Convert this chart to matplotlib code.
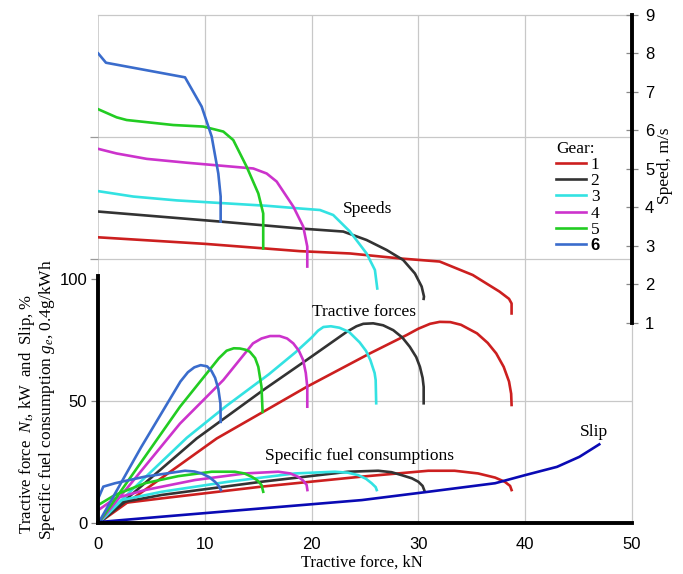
import matplotlib
matplotlib.use('Agg')
from matplotlib import pyplot as plt

plt.rcParams['mathtext.fontset'] = 'custom'
plt.rcParams['mathtext.rm'] = 'Liberation Serif'
plt.rcParams['mathtext.it'] = 'Liberation Serif:italic'

# --- speed curves (right axis, m/s) per gear: tractive force kN, speed
sp_x1 = [0, 10, 18.9, 23.6, 28.3, 32.0, 35.1, 37.6, 38.5, 38.74, 38.74]
sp_y1 = [3.22, 3.05, 2.86, 2.80, 2.67, 2.59, 2.24, 1.81, 1.62, 1.50, 1.24]
sp_x2 = [0, 11.4, 18.9, 22.96, 25.15, 27.03, 28.58, 29.68, 30.31, 30.53, 30.5]
sp_y2 = [3.89, 3.63, 3.45, 3.37, 3.15, 2.89, 2.63, 2.28, 1.94, 1.68, 1.62]
sp_x3 = [0, 3.28, 7.35, 15.78, 18.9, 20.78, 22.02, 23.59, 25.15, 25.93, 26.15]
sp_y3 = [4.42, 4.28, 4.18, 4.04, 3.97, 3.93, 3.80, 3.37, 2.80, 2.37, 1.89]
sp_x4 = [0, 1.72, 4.54, 8.28, 13.28, 14.53, 15.78, 16.72, 18.28, 19.21, 19.59, 19.59]
sp_y4 = [5.52, 5.40, 5.26, 5.16, 5.04, 5.01, 4.88, 4.67, 4.02, 3.50, 2.98, 2.46]
sp_x5 = [0, 1.72, 2.66, 7.03, 9.84, 11.72, 12.65, 13.9, 15.0, 15.46, 15.46]
sp_y5 = [6.55, 6.34, 6.27, 6.14, 6.10, 5.97, 5.75, 5.06, 4.36, 3.84, 2.93]
sp_x6 = [0, 0.72, 8.13, 9.69, 10.63, 11.25, 11.47, 11.47]
sp_y6 = [8.0, 7.76, 7.38, 6.62, 5.84, 4.88, 4.28, 3.63]

# --- tractive power curves (left axis, kW)
pw_x1 = [0, 11.1, 15.46, 19.53, 25.46, 28.9, 30.0, 31.1, 32.0, 33.0, 34.0, 35.5, 36.5, 37.3, 38.0, 38.5, 38.7, 38.74]
pw_y1 = [0, 34.7, 45.6, 55.8, 69.5, 77.0, 79.6, 81.6, 82.4, 82.3, 81.2, 77.7, 73.8, 69.5, 64.0, 58.0, 53.0, 48.4]
pw_x2 = [0, 9.22, 15.46, 19.53, 23.28, 24.2, 24.84, 25.77, 26.7, 27.65, 28.5, 29.2, 29.8, 30.15, 30.4, 30.5, 30.5]
pw_y2 = [0, 34.7, 54.5, 66.8, 78.3, 80.6, 81.6, 81.8, 81.0, 79.0, 76.0, 72.2, 68.0, 64.0, 59.5, 55.8, 49.1]
pw_x3 = [0, 3, 8.3, 12, 16, 18.5, 20, 20.6, 21.1, 21.8, 22.6, 23.5, 24.5, 25.1, 25.5, 25.9, 26.0, 26.05]
pw_y3 = [0, 13, 35, 48, 61, 70, 76, 78.8, 80.3, 80.6, 80.0, 78.3, 74.0, 70.5, 66.8, 61.5, 58.6, 49.1]
pw_x4 = [0, 7.66, 11.72, 14.5, 15.3, 16.1, 17.0, 17.7, 18.28, 18.8, 19.2, 19.45, 19.59, 19.59]
pw_y4 = [0, 40.8, 58.6, 73.6, 75.6, 76.6, 76.6, 75.6, 73.6, 70.6, 66.8, 61.5, 55.8, 47.7]
pw_x5 = [0, 7.66, 10.16, 11.3, 12.03, 12.7, 13.28, 13.8, 14.2, 14.7, 15.0, 15.3, 15.4]
pw_y5 = [0, 47.7, 61.3, 67.5, 70.6, 71.6, 71.5, 71.0, 70.2, 67.6, 64.0, 55.8, 45.6]
pw_x6 = [0, 4, 7.7, 8.4, 9.0, 9.6, 10.2, 10.6, 10.95, 11.25, 11.45, 11.47]
pw_y6 = [0, 31, 58, 61.8, 63.8, 64.7, 64.2, 62.4, 59.5, 55.0, 49.0, 41.5]

# --- specific fuel consumption curves (left axis, 0.4 g/kWh)
fc_x1 = [0, 2.19, 5.94, 15.3, 24.7, 30.93, 33.4, 35.6, 37.2, 38.1, 38.6, 38.74]
fc_y1 = [0, 8.2, 10.2, 15.0, 19.1, 21.5, 21.5, 20.4, 18.7, 17.0, 15.3, 13.6]
fc_x2 = [0, 2.5, 5.94, 15.3, 23.43, 26.24, 27.5, 28.44, 29.4, 30.0, 30.4, 30.55]
fc_y2 = [0, 8.8, 11.6, 17.0, 21.1, 21.5, 20.9, 19.7, 18.4, 17.0, 15.3, 13.6]
fc_x3 = [0, 2.19, 5.94, 12.18, 18.43, 22.18, 23.4, 24.37, 25.1, 25.62, 26.0, 26.1]
fc_y3 = [0, 9.5, 12.9, 17.0, 20.4, 21.1, 20.7, 19.7, 18.2, 16.4, 14.8, 13.6]
fc_x4 = [0, 1.57, 4.38, 9.06, 13.75, 16.87, 18.0, 18.74, 19.2, 19.53, 19.6]
fc_y4 = [5.4, 10.2, 13.6, 17.7, 20.4, 21.1, 20.4, 19.0, 17.5, 15.7, 13.6]
fc_x5 = [0, 1.57, 4.38, 7.5, 10.63, 12.8, 13.7, 14.4, 14.9, 15.3, 15.46]
fc_y5 = [7.5, 11.6, 16.4, 19.3, 21.1, 21.1, 20.4, 19.0, 17.6, 15.7, 12.9]
fc_x6 = [0, 0.47, 1.57, 4.38, 8.13, 9.0, 9.69, 10.4, 10.94, 11.3, 11.5]
fc_y6 = [10.2, 15.0, 16.4, 19.1, 21.5, 21.2, 20.4, 18.9, 17.0, 15.2, 13.6]

# --- slip, %
slip_x = [0, 5.94, 15.3, 24.7, 30.93, 37.2, 40.0, 43.0, 45.1, 46.96]
slip_y = [0.5, 2.7, 6.1, 9.5, 12.9, 16.4, 19.7, 23.1, 27.2, 32.3]

gears = ['1', '2', '3', '4', '5', '6']
colors = ['#cc1f1f', '#333333', '#33e2e2', '#cc33cc', '#22cc22', '#3a6ccc']
sp_x = [sp_x1, sp_x2, sp_x3, sp_x4, sp_x5, sp_x6]
sp_y = [sp_y1, sp_y2, sp_y3, sp_y4, sp_y5, sp_y6]
pw_x = [pw_x1, pw_x2, pw_x3, pw_x4, pw_x5, pw_x6]
pw_y = [pw_y1, pw_y2, pw_y3, pw_y4, pw_y5, pw_y6]
fc_x = [fc_x1, fc_x2, fc_x3, fc_x4, fc_x5, fc_x6]
fc_y = [fc_y1, fc_y2, fc_y3, fc_y4, fc_y5, fc_y6]

serif = 'Liberation Serif'
sans = 'Liberation Sans'
grey = '#c8c8c8'

fig = plt.figure(figsize=(6.83, 5.74), dpi=100)
ax = fig.add_axes([0.1439, 0.0883, 0.781, 0.8855])
ax.set_xlim(0, 50)
ax.set_ylim(0, 207.9)

# grid
for gx in [10, 20, 30, 40]:
    ax.axvline(gx, color=grey, lw=0.9, zorder=0)
for gy in [50, 108.3, 158.1]:
    ax.axhline(gy, color=grey, lw=0.9, zorder=0)
ax.axvline(0, color=grey, lw=1.2, zorder=0)

for s in ['top', 'right']:
    ax.spines[s].set_color(grey)
    ax.spines[s].set_linewidth(0.9)
ax.spines['left'].set_bounds(0, 101)
ax.spines['left'].set_linewidth(2.8)
ax.spines['bottom'].set_linewidth(2.8)

ax.set_xticks([0, 10, 20, 30, 40, 50])
ax.set_yticks([0, 50, 100])
ax.set_yticks([108.3, 158.1], minor=True)
ax.tick_params(axis='x', length=0, pad=10, labelsize=12)
ax.tick_params(axis='y', which='major', length=5, width=0.9, color='#888888', pad=3, labelsize=12)
ax.tick_params(axis='y', which='minor', length=6, width=0.9, color='#999999')
for lab in ax.get_xticklabels() + ax.get_yticklabels():
    lab.set_family(sans)

for i in range(6):
    ax.plot(pw_x[i], pw_y[i], color=colors[i], lw=1.9, solid_joinstyle='round')
    ax.plot(fc_x[i], fc_y[i], color=colors[i], lw=1.9, solid_joinstyle='round')
ax.plot(slip_x, slip_y, color='#0a0ab4', lw=1.9, solid_joinstyle='round')

# speed axis on the right
ax2 = ax.twinx()
ax2.set_ylim(-4.217, 9.0)
for s in ['left', 'top', 'bottom']:
    ax2.spines[s].set_visible(False)
ax2.spines['right'].set_bounds(1, 9)
ax2.spines['right'].set_linewidth(2.8)
ax2.set_yticks(range(1, 10))
ax2.tick_params(axis='y', direction='inout', length=9, width=0.9, color='#888888', pad=5, labelsize=12)
for lab in ax2.get_yticklabels():
    lab.set_family(sans)

lines = []
for i in range(6):
    ln, = ax2.plot(sp_x[i], sp_y[i], color=colors[i], lw=1.9, label=gears[i],
                   solid_joinstyle='round')
    lines.append(ln)

leg = ax2.legend(handles=lines, title='Gear:', loc='upper left',
                 bbox_to_anchor=(556 / 683, 1 - 141 / 574), bbox_transform=fig.transFigure,
                 frameon=False, borderpad=0, borderaxespad=0, handlelength=1.75,
                 handletextpad=0.25, labelspacing=0.0, alignment='left',
                 prop={'family': serif, 'size': 12.5},
                 title_fontproperties={'family': serif, 'size': 12.5})
leg.get_texts()[5].set_family(sans)
leg.get_texts()[5].set_weight('bold')
leg.get_texts()[5].set_size(12)

# curve group labels
ax.text(22.9, 128.5, 'Speeds', family=serif, fontsize=12.5, va='center')
ax.text(20.0, 86.4, 'Tractive forces', family=serif, fontsize=12.5, va='center')
ax.text(15.6, 27.5, 'Specific fuel consumptions', family=serif, fontsize=12.5, va='center')
ax.text(45.1, 37.3, 'Slip', family=serif, fontsize=12.5, va='center')

# axis titles
fig.text(362 / 683, 1 - 563 / 574, 'Tractive force, kN', family=serif, fontsize=12,
         ha='center', va='center')
fig.text(665 / 683, 1 - 166 / 574, 'Speed, m/s', family=serif, fontsize=12.5,
         rotation=90, ha='center', va='center')
fig.text(27 / 683, 1 - 414 / 574, r'Tractive force  $N_t$, kW  and  Slip, %', family=serif,
         fontsize=12, rotation=90, ha='center', va='center')
fig.text(47 / 683, 1 - 400 / 574, r'Specific fuel consumption $g_e$, 0.4g/kWh', family=serif,
         fontsize=12.5, rotation=90, ha='center', va='center')

fig.savefig('out.png', dpi=100)
